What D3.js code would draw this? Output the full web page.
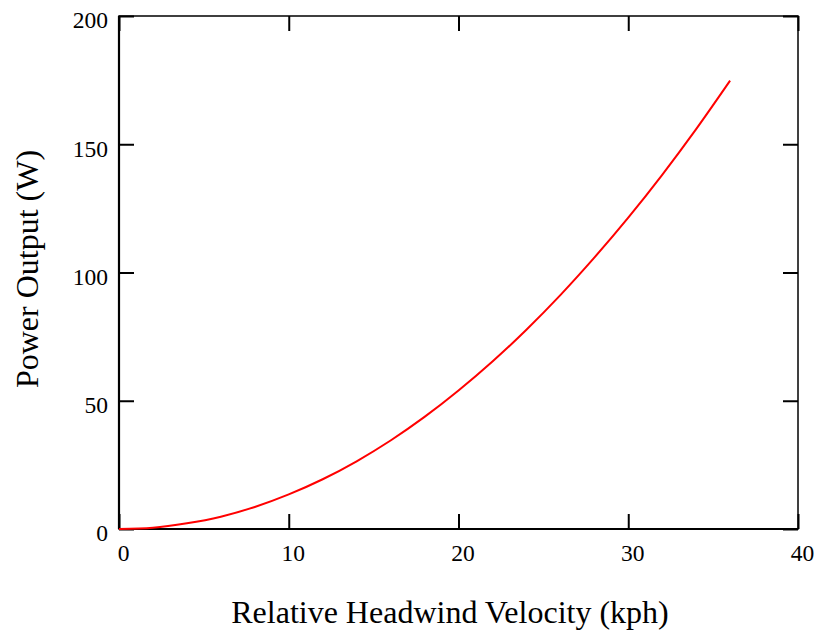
<!DOCTYPE html>
<html>
<head>
<meta charset="utf-8">
<script src="https://cdn.jsdelivr.net/npm/d3@7"></script>
<style>
  body { margin: 0; background: #fff; }
  text { font-family: "Liberation Serif", "Times New Roman", serif; fill: #000; }
</style>
</head>
<body>
<svg id="chart" width="815" height="634"></svg>
<script>
// Data
const velocity = [0, 2, 4, 6, 8, 10, 12, 14, 16, 18, 20, 22, 24, 26, 28, 30, 32, 34, 36];
const power = [0, 0.5, 2.2, 4.8, 8.6, 13.5, 19.4, 26.4, 34.5, 43.7, 54, 65.3, 77.7, 91.2, 105.8, 121.4, 138.1, 155.9, 174.8];
const xTicks = [0, 10, 20, 30, 40];
const yTicks = [0, 50, 100, 150, 200];

const margin = { left: 119, right: 17, top: 16, bottom: 105 };
const w = 815, h = 634;

const svg = d3.select('#chart');

const x = d3.scaleLinear().domain([0, 40]).range([margin.left, w - margin.right]);
const y = d3.scaleLinear().domain([0, 200]).range([h - margin.bottom, margin.top]);

const tickLen = 15;

// frame
svg.append('rect')
   .attr('x', x(0)).attr('y', y(200))
   .attr('width', x(40) - x(0)).attr('height', y(0) - y(200))
   .attr('fill', 'none').attr('stroke', '#000').attr('stroke-width', 1.5);
svg.append('line').attr('x1', x(0)).attr('x2', x(0)).attr('y1', y(200)).attr('y2', y(0))
   .attr('stroke', '#000').attr('stroke-width', 2.2);
svg.append('line').attr('x1', x(0)).attr('x2', x(40)).attr('y1', y(0)).attr('y2', y(0))
   .attr('stroke', '#000').attr('stroke-width', 2.2);

// x ticks, bottom and top, pointing inward
const xAxisB = d3.axisBottom(x).tickValues(xTicks).tickSize(-tickLen).tickPadding(15);
const gx = svg.append('g').attr('transform', `translate(0,${y(0)})`).call(xAxisB);
gx.selectAll('.tick text').attr('dx', 4);
const xAxisT = d3.axisTop(x).tickValues(xTicks).tickSize(-tickLen).tickFormat('');
const gxt = svg.append('g').attr('transform', `translate(0,${y(200)})`).call(xAxisT);

// y ticks, left and right
const yAxisL = d3.axisLeft(y).tickValues(yTicks).tickSize(-tickLen).tickPadding(11);
const gy = svg.append('g').attr('transform', `translate(${x(0)},0)`).call(yAxisL);
gy.selectAll('.tick text').attr('dy', '0.5em');
const yAxisR = d3.axisRight(y).tickValues(yTicks).tickSize(-tickLen).tickFormat('');
const gyr = svg.append('g').attr('transform', `translate(${x(40)},0)`).call(yAxisR);

[gx, gxt, gy, gyr].forEach(g => {
  g.select('.domain').remove();
  g.selectAll('.tick line').attr('stroke', '#000').attr('stroke-width', 2);
  g.selectAll('.tick text')
   .style('font-family', '"Liberation Serif", serif')
   .style('font-size', '23.5px')
   .attr('fill', '#000');
});

// curve
const line = d3.line()
               .x((d, i) => x(velocity[i]))
               .y(d => y(d))
               .curve(d3.curveMonotoneX);

svg.append('path')
   .datum(power)
   .attr('d', line)
   .attr('fill', 'none')
   .attr('stroke', '#f00')
   .attr('stroke-width', 2);

// axis titles
svg.append('text')
   .attr('x', 450)
   .attr('y', 623)
   .attr('text-anchor', 'middle')
   .style('font-size', '32px')
   .text('Relative Headwind Velocity (kph)');

svg.append('text')
   .attr('transform', `translate(38,269) rotate(-90)`)
   .attr('text-anchor', 'middle')
   .style('font-size', '32px')
   .text('Power Output (W)');
</script>
</body>
</html>
